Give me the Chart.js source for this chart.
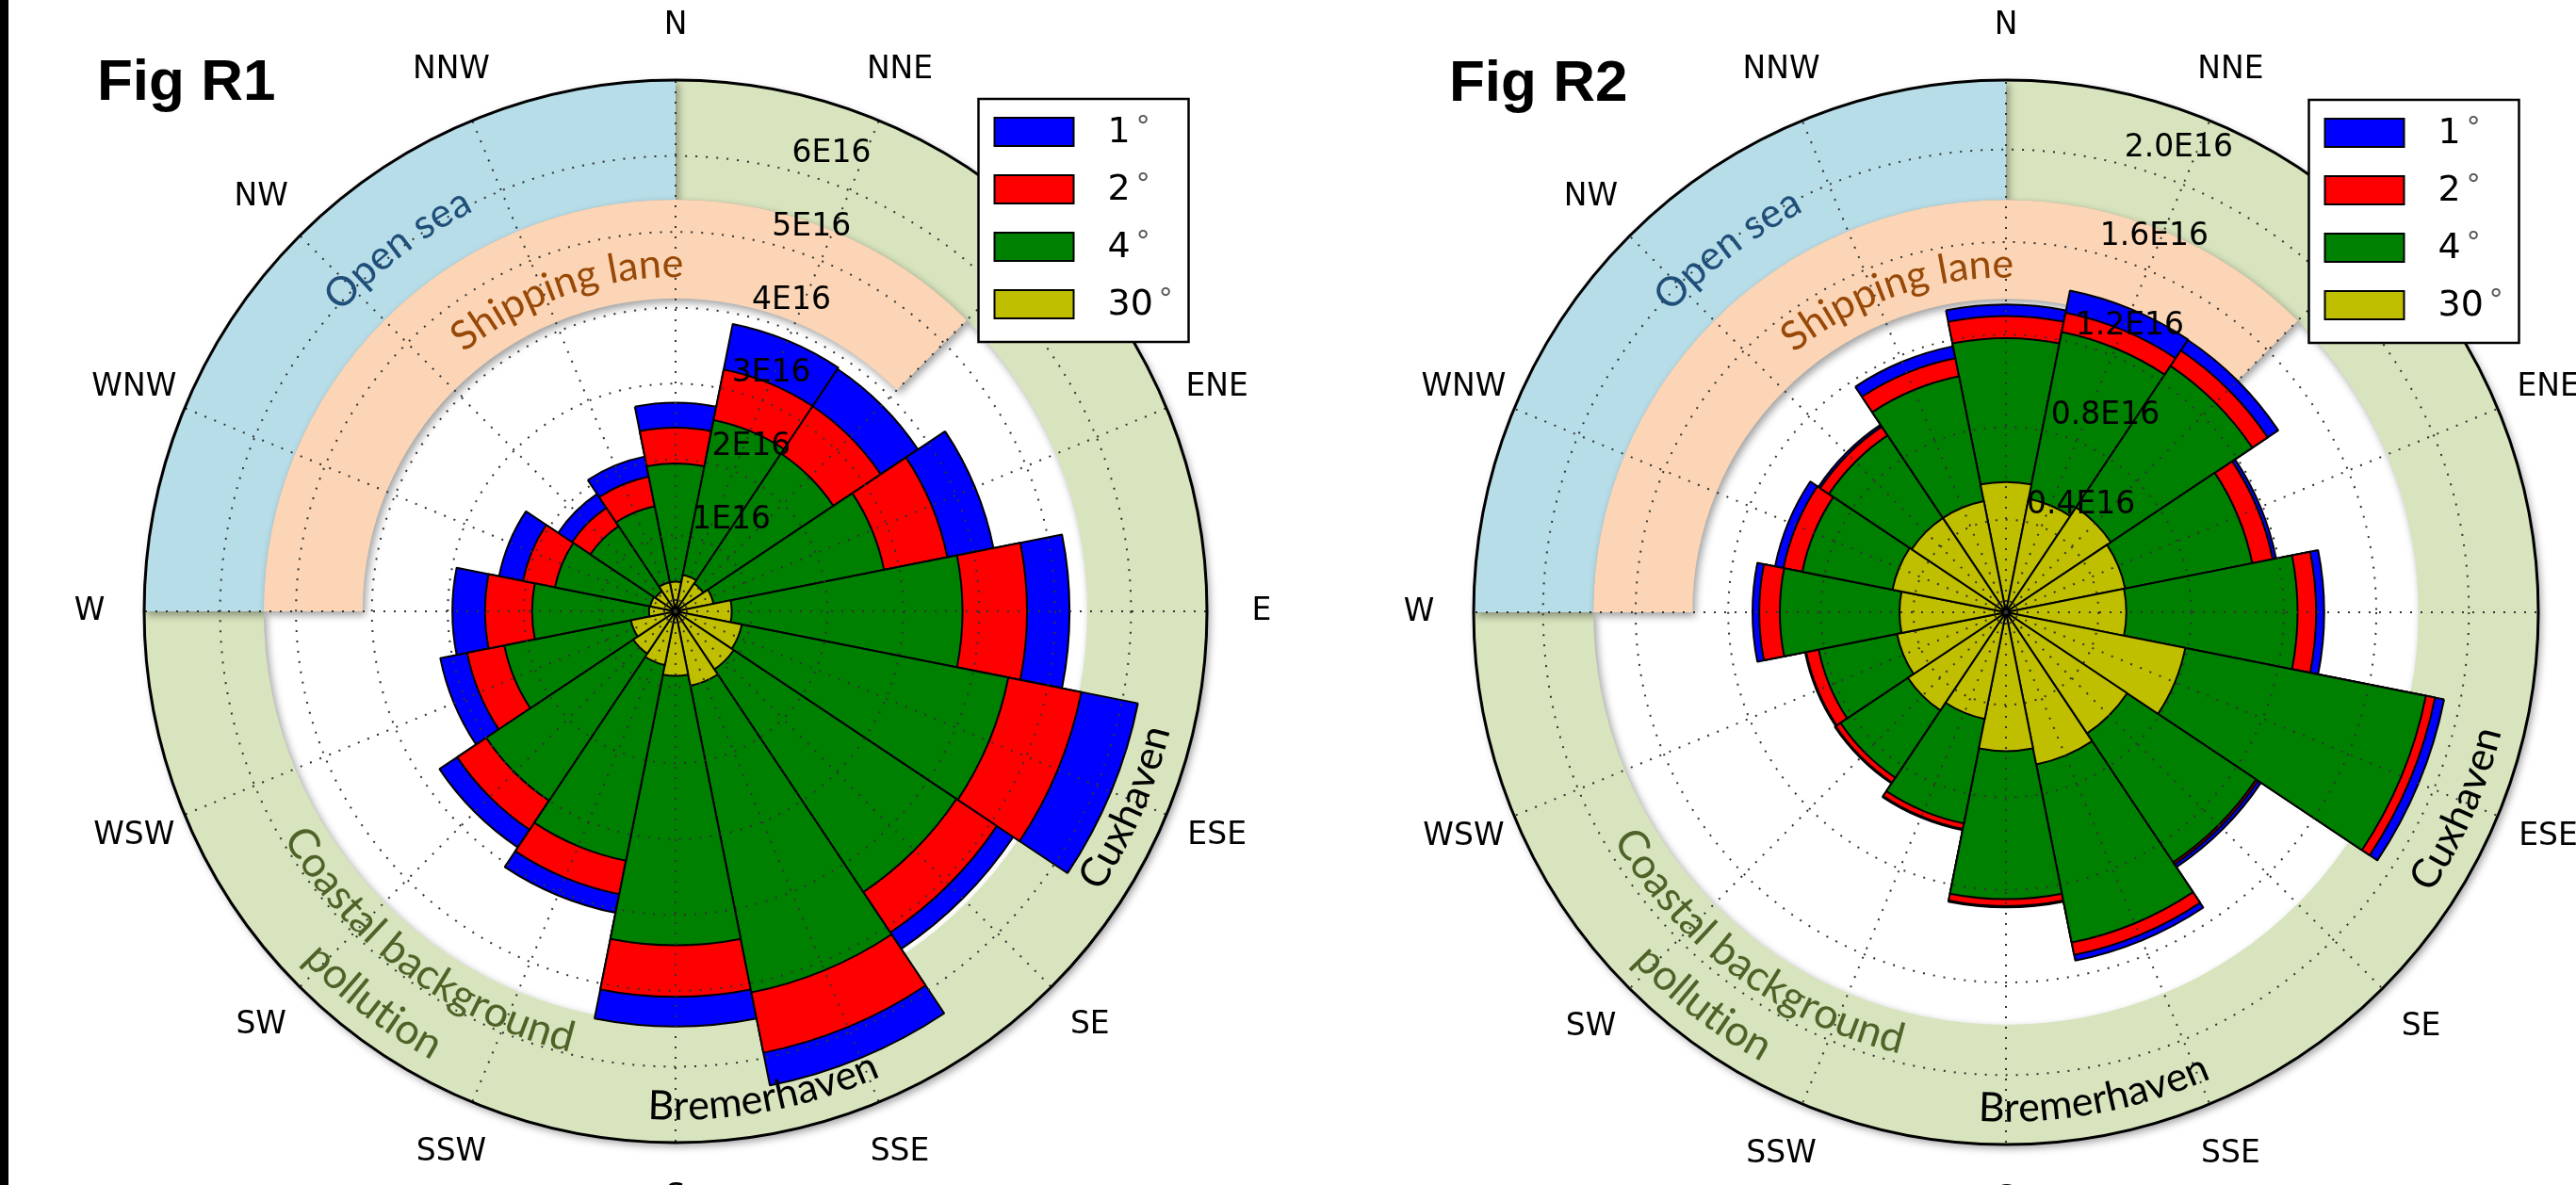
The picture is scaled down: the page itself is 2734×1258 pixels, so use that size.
<!DOCTYPE html>
<html>
<head>
<meta charset="utf-8">
<script src="https://cdn.jsdelivr.net/npm/chart.js@4.4.1/dist/chart.umd.min.js"></script>
<style>
  html, body { margin: 0; padding: 0; background: #fff; }
  body { width: 2734px; height: 1258px; position: relative; overflow: hidden; }
  #strip { position: absolute; left: 0; top: 0; width: 9px; height: 1258px; background: #000; z-index: 5; }
  .wrap { position: absolute; top: 0; height: 1258px; }
  #w1 { left: 0; width: 1420px; }
  #w2 { left: 1420px; width: 1314px; }
</style>
</head>
<body>
<div id="strip"></div>
<div class="wrap" id="w1"><canvas id="c1" width="1420" height="1258"></canvas></div>
<div class="wrap" id="w2"><canvas id="c2" width="1314" height="1258"></canvas></div>
<script>
const dirs = ['N', 'NNE', 'NE', 'ENE', 'E', 'ESE', 'SE', 'SSE', 'S', 'SSW', 'SW', 'WSW', 'W', 'WNW', 'NW', 'NNW'];
const legendLabels = ['1', '2', '4', '30'];
const legendColors = ['#0000ff', '#ff0000', '#008000', '#bfbf00'];

// Fig R1, values in units of 1E16
const r1Deg1  = [2.75, 3.86, 3.84, 4.27, 5.19, 6.21, 5.35, 6.37, 5.47, 4.05, 3.74, 3.16, 2.94, 2.37, 1.86, 2.08];
const r1Deg2  = [2.42, 3.25, 3.25, 3.65, 4.63, 5.45, 5.09, 5.93, 5.08, 3.80, 3.46, 2.80, 2.51, 2.05, 1.64, 1.81];
const r1Deg4  = [1.95, 2.57, 2.50, 2.80, 3.78, 4.47, 4.45, 5.12, 4.40, 3.35, 3.00, 2.30, 1.89, 1.62, 1.35, 1.41];
const r1Deg30 = [0.39, 0.49, 0.44, 0.51, 0.74, 0.89, 0.92, 1.00, 0.85, 0.72, 0.67, 0.60, 0.35, 0.34, 0.32, 0.39];
const r1Ticks = [1, 2, 3, 4, 5, 6];
const r1TickLabels = ['1E16', '2E16', '3E16', '4E16', '5E16', '6E16'];
const r1Max = 7;

// Fig R2, values in units of 1E16
const r2Deg1  = [1.33, 1.417, 1.415, 1.19, 1.375, 1.93, 1.325, 1.535, 1.275, 0.96, 0.89, 0.885, 1.095, 1.017, 0.975, 1.172];
const r2Deg2  = [1.28, 1.32, 1.36, 1.175, 1.34, 1.89, 1.31, 1.51, 1.27, 0.955, 0.885, 0.88, 1.066, 0.98, 0.965, 1.12];
const r2Deg4  = [1.185, 1.235, 1.28, 1.085, 1.26, 1.85, 1.30, 1.455, 1.24, 0.93, 0.86, 0.825, 0.977, 0.897, 0.92, 1.04];
const r2Deg30 = [0.563, 0.50, 0.545, 0.525, 0.52, 0.79, 0.63, 0.67, 0.60, 0.47, 0.51, 0.48, 0.46, 0.50, 0.49, 0.49];
const r2Ticks = [0.4, 0.8, 1.2, 1.6, 2.0];
const r2TickLabels = ['0.4E16', '0.8E16', '1.2E16', '1.6E16', '2.0E16'];
const r2Max = 2.3;

// region captions: text, colour, font size, baseline radius (fraction of outer), compass angle, smile = reads anticlockwise
const captions = [
  { text: 'Open sea', color: '#1f4e79', size: 43, r: 0.844, a: 322.5, smile: false },
  { text: 'Shipping lane', color: '#984807', size: 43, r: 0.629, a: 341, smile: false },
  { text: 'Coastal background', color: '#4f6228', size: 45, r: 0.853, a: 216.8, smile: true },
  { text: 'pollution', color: '#4f6228', size: 45, r: 0.961, a: 217.7, smile: true },
  { text: 'Cuxhaven', color: '#000', size: 43, r: 0.957, a: 113.6, smile: true },
  { text: 'Bremerhaven', color: '#000', size: 43, r: 0.957, a: 169.8, smile: true }
];

const DEG = Math.PI / 180;
function pt(cx, cy, r, a) { return [cx + r * Math.sin(a * DEG), cy - r * Math.cos(a * DEG)]; }

function ring(ctx, cx, cy, r0, r1, a0, a1, color) {
  const s = (a0 - 90) * DEG, e = (a1 - 90) * DEG;
  ctx.beginPath();
  ctx.arc(cx, cy, r1, s, e);
  ctx.arc(cx, cy, r0, e, s, true);
  ctx.closePath();
  ctx.fillStyle = color;
  ctx.fill();
}

function arcText(ctx, cx, cy, text, r, a, smile) {
  const dir = smile ? -1 : 1;
  const total = ctx.measureText(text).width;
  let cur = a * DEG - dir * total / (2 * r);
  for (const ch of text) {
    const w = ctx.measureText(ch).width;
    const mid = cur + dir * w / (2 * r);
    ctx.save();
    ctx.translate(cx + r * Math.sin(mid), cy - r * Math.cos(mid));
    ctx.rotate(smile ? mid + Math.PI : mid);
    ctx.fillText(ch, 0, 0);
    ctx.restore();
    cur += dir * w / r;
  }
}

const rosePlugin = {
  id: 'rose',
  beforeDatasetsDraw(chart) {
    const s = chart.scales.r, ctx = chart.ctx;
    const cx = s.xCenter, cy = s.yCenter, R = s.drawingArea;
    ctx.save();
    ctx.shadowColor = 'rgba(0,0,0,0.38)';
    ctx.shadowBlur = 9;
    ctx.shadowOffsetX = 3;
    ctx.shadowOffsetY = 4;
    ring(ctx, cx, cy, R * 0.775, R, 0, 270, '#d7e4bd');
    ring(ctx, cx, cy, R * 0.775, R, 270, 360, '#b7dde8');
    ring(ctx, cx, cy, R * 0.589, R * 0.775, 270, 405, '#fbd5b5');
    ctx.restore();
  },
  afterDatasetsDraw(chart, args, o) {
    const s = chart.scales.r, ctx = chart.ctx;
    const cx = s.xCenter, cy = s.yCenter, R = s.drawingArea;
    ctx.save();
    // dotted grid on top of the bars
    ctx.strokeStyle = '#333';
    ctx.lineWidth = 2;
    ctx.setLineDash([2, 9]);
    o.ticks.forEach(v => {
      ctx.beginPath();
      ctx.arc(cx, cy, s.getDistanceFromCenterForValue(v), 0, 2 * Math.PI);
      ctx.stroke();
    });
    dirs.forEach((d, i) => {
      const [x, y] = pt(cx, cy, R, i * 22.5);
      ctx.beginPath(); ctx.moveTo(cx, cy); ctx.lineTo(x, y); ctx.stroke();
    });
    ctx.setLineDash([]);
    ctx.lineWidth = 3;
    ctx.strokeStyle = '#000';
    ctx.beginPath(); ctx.arc(cx, cy, R, 0, 2 * Math.PI); ctx.stroke();

    // captions
    ctx.textAlign = 'center';
    ctx.textBaseline = 'alphabetic';
    captions.forEach(c => {
      ctx.font = c.size + 'px Lato';
      ctx.fillStyle = c.color;
      arcText(ctx, cx, cy, c.text, R * c.r, c.a, c.smile);
    });

    // radial tick labels
    ctx.fillStyle = '#000';
    ctx.font = '33px "DejaVu Sans"';
    ctx.textAlign = 'left';
    ctx.textBaseline = 'middle';
    o.ticks.forEach((v, i) => {
      const [x, y] = pt(cx, cy, s.getDistanceFromCenterForValue(v), 15.3);
      ctx.fillText(o.tickLabels[i], x - 4, y - 19);
    });

    // compass labels
    ctx.textAlign = 'center';
    dirs.forEach((d, i) => {
      const [x, y] = pt(cx, cy, R + 58, i * 22.5);
      ctx.fillText(d, x, y);
    });

    // legend
    const bx = cx + 321.5, by = cy - 544;
    ctx.fillStyle = '#fff';
    ctx.fillRect(bx, by, 223, 258);
    ctx.lineWidth = 2.5;
    ctx.strokeStyle = '#000';
    ctx.strokeRect(bx, by, 223, 258);
    legendLabels.forEach((lab, i) => {
      const py = by + 20 + i * 61;
      ctx.fillStyle = legendColors[i];
      ctx.fillRect(bx + 17, py, 84, 30);
      ctx.lineWidth = 2;
      ctx.strokeRect(bx + 17, py, 84, 30);
      ctx.fillStyle = '#000';
      ctx.font = '38px "DejaVu Sans"';
      ctx.textAlign = 'left';
      ctx.textBaseline = 'middle';
      ctx.fillText(lab, bx + 137, py + 16);
      const w = ctx.measureText(lab).width;
      ctx.fillStyle = '#555';
      ctx.font = '30px "DejaVu Sans"';
      ctx.fillText('\u2218', bx + 137 + w + 4, py + 3);
    });

    // panel title
    ctx.fillStyle = '#000';
    ctx.font = 'bold 62px "Liberation Sans"';
    ctx.textAlign = 'left';
    ctx.textBaseline = 'alphabetic';
    ctx.fillText(o.title, cx + o.titleDx, cy - 543);
    ctx.restore();
  }
};

function makeRose(id, d1, d2, d4, d30, max, pad, roseOpts) {
  const sets = [
    { label: '30', data: d30, backgroundColor: '#bfbf00' },
    { label: '4', data: d4, backgroundColor: '#008000' },
    { label: '2', data: d2, backgroundColor: '#ff0000' },
    { label: '1', data: d1, backgroundColor: '#0000ff' }
  ].map(ds => Object.assign(ds, { borderColor: '#000', borderWidth: 2 }));
  return new Chart(document.getElementById(id), {
    type: 'polarArea',
    data: { labels: dirs, datasets: sets },
    options: {
      responsive: false,
      animation: false,
      events: [],
      startAngle: -11.25,
      layout: { padding: pad },
      scales: {
        r: {
          min: 0, max: max, startAngle: -11.25,
          ticks: { display: false },
          grid: { display: false },
          angleLines: { display: false },
          pointLabels: { display: false }
        }
      },
      plugins: { legend: { display: false }, tooltip: { enabled: false }, rose: roseOpts }
    },
    plugins: [rosePlugin]
  });
}

makeRose('c1', r1Deg1, r1Deg2, r1Deg4, r1Deg30, r1Max,
  { left: 153, top: 85, right: 139, bottom: 45 },
  { ticks: r1Ticks, tickLabels: r1TickLabels, title: 'Fig R1', titleDx: -614 });
makeRose('c2', r2Deg1, r2Deg2, r2Deg4, r2Deg30, r2Max,
  { left: 144, top: 85, right: 40, bottom: 43 },
  { ticks: r2Ticks, tickLabels: r2TickLabels, title: 'Fig R2', titleDx: -591 });
</script>
</body>
</html>
